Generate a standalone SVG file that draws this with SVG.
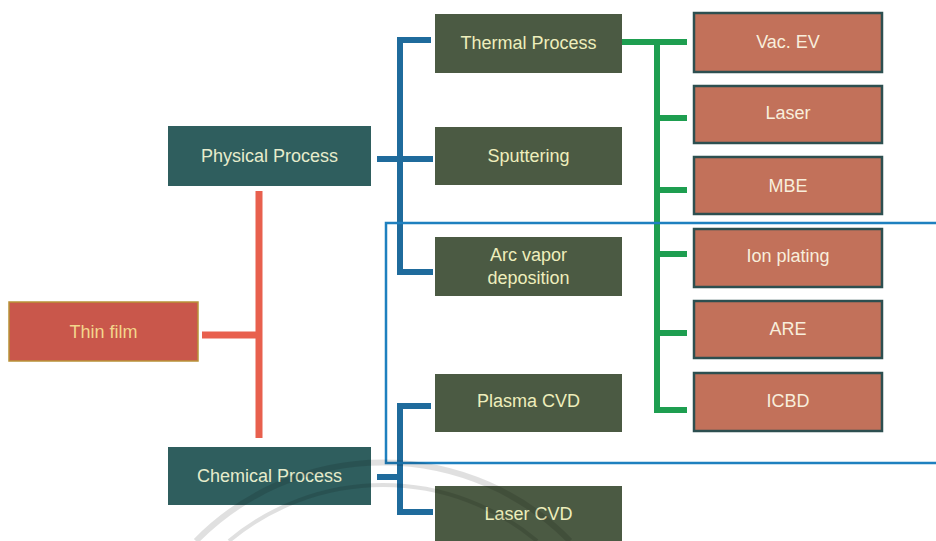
<svg xmlns="http://www.w3.org/2000/svg" width="936" height="541" viewBox="0 0 936 541">
<style>
.t{font-family:"Liberation Sans",Arial,sans-serif;font-size:18px;text-anchor:middle;}
.teal rect{fill:#2f5e5e;}
.teal text{fill:#e6eccc;}
.olive rect{fill:#4b5a43;}
.olive text{fill:#eeeebc;}
.salmon rect{fill:#c2715a;stroke:#2d4f50;stroke-width:2.5;}
.salmon text{fill:#f8eedc;}
.root rect{fill:#c9574b;stroke:#b89238;stroke-width:1.5;}
.root text{fill:#f3d68c;}
.conn path{fill:none;stroke-linecap:butt;}
.red{stroke:#e8604e;stroke-width:7;}
.blue{stroke:#1f6b9c;stroke-width:6;}
.green{stroke:#1e9e50;stroke-width:6;}
.frame{stroke:#1e80bf;stroke-width:2.5;}
.wm{fill:none;stroke:#000;stroke-opacity:0.12;}
</style>
<rect width="936" height="541" fill="#ffffff"/>
<g id="connectors" class="conn">
<path class="red" d="M259,191 V438 M202,335 H259"/>
<path class="blue" d="M431,40 H400 V272 H433 M377,159 H433"/>
<path class="blue" d="M431,406 H400 V512 H433 M377,477 H400"/>
<path class="green" d="M621,42 H687 M657,42 V410 H687 M657,118 H687 M657,190 H687 M657,254 H687 M657,333 H687"/>
<path class="frame" d="M936,223 H386 V463 H936"/>
</g>
<g id="thin-film" class="root"><rect x="9" y="302" width="189" height="59"/><text class="t" x="103.5" y="338">Thin film</text></g>
<g id="physical-process" class="teal"><rect x="168" y="126" width="203" height="60"/><text class="t" x="269.5" y="162">Physical Process</text></g>
<g id="chemical-process" class="teal"><rect x="168" y="447" width="203" height="58"/><text class="t" x="269.5" y="482">Chemical Process</text></g>
<g id="thermal-process" class="olive"><rect x="435" y="14" width="187" height="59"/><text class="t" x="528.5" y="49">Thermal Process</text></g>
<g id="sputtering" class="olive"><rect x="435" y="127" width="187" height="58"/><text class="t" x="528.5" y="162">Sputtering</text></g>
<g id="arc-vapor" class="olive"><rect x="435" y="237" width="187" height="59"/><text class="t" x="528.5" y="261">Arc vapor</text><text class="t" x="528.5" y="284">deposition</text></g>
<g id="plasma-cvd" class="olive"><rect x="435" y="374" width="187" height="58"/><text class="t" x="528.5" y="407">Plasma CVD</text></g>
<g id="laser-cvd" class="olive"><rect x="435" y="486" width="187" height="60"/><text class="t" x="528.5" y="520">Laser CVD</text></g>
<g id="vac-ev" class="salmon"><rect x="694" y="13" width="188" height="59"/><text class="t" x="788" y="48">Vac. EV</text></g>
<g id="laser" class="salmon"><rect x="694" y="86" width="188" height="57"/><text class="t" x="788" y="119">Laser</text></g>
<g id="mbe" class="salmon"><rect x="694" y="157" width="188" height="57"/><text class="t" x="788" y="192">MBE</text></g>
<g id="ion-plating" class="salmon"><rect x="694" y="229" width="188" height="58"/><text class="t" x="788" y="262">Ion plating</text></g>
<g id="are" class="salmon"><rect x="694" y="301" width="188" height="57"/><text class="t" x="788" y="335">ARE</text></g>
<g id="icbd" class="salmon"><rect x="694" y="373" width="188" height="58"/><text class="t" x="788" y="407">ICBD</text></g>
<path class="wm" stroke-width="6" d="M196,541 A262,262 0 0 1 570,541"/>
<path class="wm" stroke-width="4" d="M229,541 A240,240 0 0 1 537,541"/>
</svg>
